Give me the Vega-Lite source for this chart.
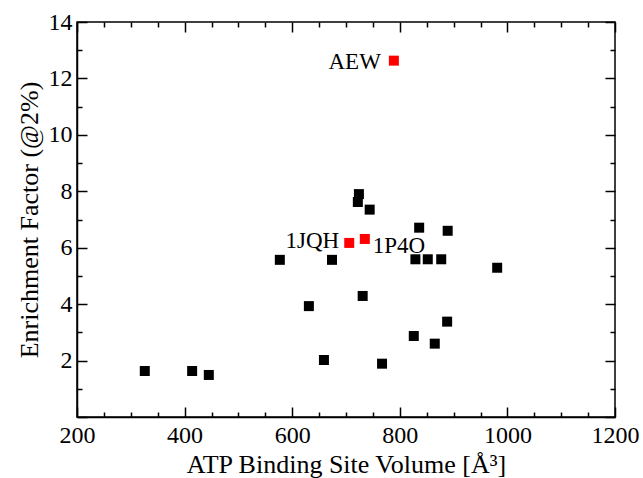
{
  "$schema": "https://vega.github.io/schema/vega-lite/v6.json",
  "width": 538,
  "height": 395,
  "autosize": "none",
  "padding": {"left": 77, "top": 22, "right": 28, "bottom": 61},
  "config": {
    "font": "Liberation Serif",
    "view": {"stroke": "black", "strokeWidth": 1.5},
    "axis": {
      "domainColor": "black", "domainWidth": 1.5, "tickColor": "black", "tickWidth": 1.5,
      "labelColor": "black", "titleColor": "black", "labelFontSize": 24, "titleFontSize": 26,
      "titleFontWeight": "normal", "grid": false, "labelFlush": false, "labelOverlap": false
    }
  },
  "data": {"values": [
    {"volume": 326, "ef": 1.63, "group": "other", "name": ""},
    {"volume": 414, "ef": 1.63, "group": "other", "name": ""},
    {"volume": 445, "ef": 1.49, "group": "other", "name": ""},
    {"volume": 577, "ef": 5.57, "group": "other", "name": ""},
    {"volume": 631, "ef": 3.93, "group": "other", "name": ""},
    {"volume": 659, "ef": 2.02, "group": "other", "name": ""},
    {"volume": 674, "ef": 5.57, "group": "other", "name": ""},
    {"volume": 724, "ef": 7.9, "group": "other", "name": ""},
    {"volume": 722, "ef": 7.62, "group": "other", "name": ""},
    {"volume": 744, "ef": 7.35, "group": "other", "name": ""},
    {"volume": 731, "ef": 4.29, "group": "other", "name": ""},
    {"volume": 767, "ef": 1.89, "group": "other", "name": ""},
    {"volume": 836, "ef": 6.71, "group": "other", "name": ""},
    {"volume": 889, "ef": 6.6, "group": "other", "name": ""},
    {"volume": 829, "ef": 5.59, "group": "other", "name": ""},
    {"volume": 852, "ef": 5.59, "group": "other", "name": ""},
    {"volume": 877, "ef": 5.59, "group": "other", "name": ""},
    {"volume": 981, "ef": 5.29, "group": "other", "name": ""},
    {"volume": 888, "ef": 3.38, "group": "other", "name": ""},
    {"volume": 826, "ef": 2.87, "group": "other", "name": ""},
    {"volume": 865, "ef": 2.6, "group": "other", "name": ""},
    {"volume": 706, "ef": 6.17, "group": "highlight", "name": "1JQH"},
    {"volume": 735, "ef": 6.31, "group": "highlight", "name": "1P4O"},
    {"volume": 789, "ef": 12.63, "group": "highlight", "name": "AEW"}
  ]},
  "resolve": {"axis": {"x": "independent", "y": "independent"}},
  "layer": [
    {
      "mark": {"type": "point", "shape": "square", "filled": true, "size": 100, "opacity": 1},
      "encoding": {
        "x": {"field": "volume", "type": "quantitative",
          "scale": {"domain": [200, 1200], "nice": false, "zero": false},
          "axis": {"orient": "bottom", "title": "ATP Binding Site Volume [Å³]",
            "values": [200, 400, 600, 800, 1000, 1200], "format": "d",
            "ticks": false, "labelPadding": 6, "titlePadding": 4}},
        "y": {"field": "ef", "type": "quantitative",
          "scale": {"domain": [0, 14], "nice": false},
          "axis": {"orient": "left", "title": "Enrichment Factor (@2%)",
            "values": [2, 4, 6, 8, 10, 12, 14], "format": "d",
            "ticks": false, "labelPadding": 5, "titlePadding": 6}},
        "color": {"field": "group", "type": "nominal",
          "scale": {"domain": ["other", "highlight"], "range": ["black", "#ff0000"]}, "legend": null}
      }
    },
    {
      "mark": {"type": "point", "opacity": 0},
      "encoding": {
        "x": {"field": "volume", "type": "quantitative",
          "axis": {"orient": "bottom", "title": null, "labels": false, "domain": false,
            "values": [200, 400, 600, 800, 1000, 1200], "tickSize": 10, "offset": -10}},
        "y": {"field": "ef", "type": "quantitative",
          "axis": {"orient": "left", "title": null, "labels": false, "domain": false,
            "values": [0, 2, 4, 6, 8, 10, 12, 14], "tickSize": 10, "offset": -10}}
      }
    },
    {
      "mark": {"type": "point", "opacity": 0},
      "encoding": {
        "x": {"field": "volume", "type": "quantitative",
          "axis": {"orient": "top", "title": null, "labels": false, "domain": false,
            "values": [200, 400, 600, 800, 1000, 1200], "tickSize": 10, "offset": -10}},
        "y": {"field": "ef", "type": "quantitative",
          "axis": {"orient": "right", "title": null, "labels": false, "domain": false,
            "values": [0, 2, 4, 6, 8, 10, 12, 14], "tickSize": 10, "offset": -10}}
      }
    },
    {
      "mark": {"type": "point", "opacity": 0},
      "encoding": {
        "x": {"field": "volume", "type": "quantitative",
          "axis": {"orient": "bottom", "title": null, "labels": false, "domain": false,
            "values": [250, 300, 350, 450, 500, 550, 650, 700, 750, 850, 900, 950, 1050, 1100, 1150], "tickSize": 5, "offset": -5}},
        "y": {"field": "ef", "type": "quantitative",
          "axis": {"orient": "left", "title": null, "labels": false, "domain": false,
            "values": [1, 3, 5, 7, 9, 11, 13], "tickSize": 5, "offset": -5}}
      }
    },
    {
      "mark": {"type": "point", "opacity": 0},
      "encoding": {
        "x": {"field": "volume", "type": "quantitative",
          "axis": {"orient": "top", "title": null, "labels": false, "domain": false,
            "values": [250, 300, 350, 450, 500, 550, 650, 700, 750, 850, 900, 950, 1050, 1100, 1150], "tickSize": 5, "offset": -5}},
        "y": {"field": "ef", "type": "quantitative",
          "axis": {"orient": "right", "title": null, "labels": false, "domain": false,
            "values": [1, 3, 5, 7, 9, 11, 13], "tickSize": 5, "offset": -5}}
      }
    },
    {
      "transform": [{"filter": "datum.name === 'AEW'"}],
      "mark": {"type": "text", "align": "right", "baseline": "middle", "dx": -13, "dy": 1, "fontSize": 23, "color": "black"},
      "encoding": {
        "x": {"field": "volume", "type": "quantitative", "axis": null},
        "y": {"field": "ef", "type": "quantitative", "axis": null},
        "text": {"field": "name"}
      }
    },
    {
      "transform": [{"filter": "datum.name === '1JQH'"}],
      "mark": {"type": "text", "align": "right", "baseline": "middle", "dx": -10, "dy": -2, "fontSize": 23, "color": "black"},
      "encoding": {
        "x": {"field": "volume", "type": "quantitative", "axis": null},
        "y": {"field": "ef", "type": "quantitative", "axis": null},
        "text": {"field": "name"}
      }
    },
    {
      "transform": [{"filter": "datum.name === '1P4O'"}],
      "mark": {"type": "text", "align": "left", "baseline": "middle", "dx": 8, "dy": 7, "fontSize": 23, "color": "black"},
      "encoding": {
        "x": {"field": "volume", "type": "quantitative", "axis": null},
        "y": {"field": "ef", "type": "quantitative", "axis": null},
        "text": {"field": "name"}
      }
    }
  ]
}
